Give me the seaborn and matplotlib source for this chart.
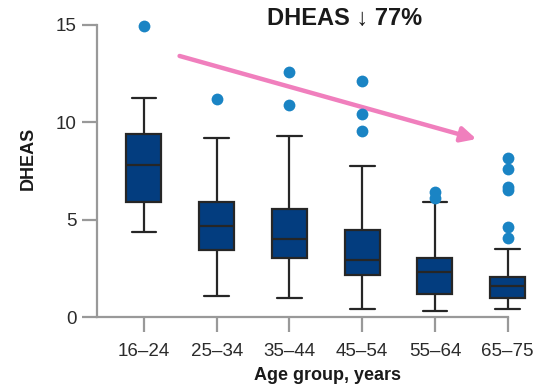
import numpy as np
import pandas as pd
import matplotlib
matplotlib.use("Agg")
import matplotlib.pyplot as plt
import seaborn as sns
from matplotlib import font_manager

# ---- data ----
groups = ["16–24", "25–34", "35–44", "45–54", "55–64", "65–75"]
whisker_low = [4.37, 1.08, 0.97, 0.43, 0.34, 0.43]
q1 = [5.90, 3.44, 3.03, 2.15, 1.18, 0.97]
median = [7.79, 4.70, 4.02, 2.94, 2.31, 1.62]
q3 = [9.40, 5.90, 5.55, 4.48, 3.04, 2.05]
whisker_high = [11.26, 9.20, 9.30, 7.77, 5.91, 3.49]
outliers = {
    "16–24": [14.95],
    "25–34": [11.2],
    "35–44": [12.6, 10.87],
    "45–54": [12.13, 10.44, 9.57],
    "55–64": [6.44, 6.10],
    "65–75": [8.17, 7.59, 6.70, 6.52, 4.65, 4.08],
}
title_text = "DHEAS ↓ 77%"
y_label = "DHEAS"
x_label = "Age group, years"
y_ticks = [0, 5, 10, 15]

# long-format table of box stats (5 points per group -> exact quartiles)
rows = []
for i, g in enumerate(groups):
    for v in (whisker_low[i], q1[i], median[i], q3[i], whisker_high[i]):
        rows.append({"group": g, "value": v})
box_df = pd.DataFrame(rows)
out_df = pd.DataFrame([{"group": g, "value": v} for g in groups for v in outliers[g]])

sns.set_style("ticks")
avail = {f.name for f in font_manager.fontManager.ttflist}
narrow = "Liberation Sans Narrow" if "Liberation Sans Narrow" in avail else "Liberation Sans"
plt.rcParams["font.family"] = [narrow, "DejaVu Sans"]

fig = plt.figure(figsize=(5.39, 3.86), dpi=100)
ax = fig.add_axes([97 / 539, 1 - 317.3 / 386, 1 - 97 / 539, 317.3 / 386])

axis_gray = "#999999"
box_blue = "#033d7f"
edge = "#262626"
dot_blue = "#1a84c4"

sns.boxplot(data=box_df, x="group", y="value", order=groups, ax=ax,
            whis=(0, 100), width=0.48, color=box_blue, saturation=1,
            linecolor=edge, linewidth=1.6, showfliers=False)
# widen caps to match reference
for c in ax.containers:
    if hasattr(c, "caps"):
        for cap in c.caps:
            xd = np.asarray(cap.get_xdata(), dtype=float)
            mid = xd.mean()
            cap.set_xdata([mid - 0.17, mid + 0.17])
for p in ax.patches:
    p.set_facecolor(box_blue)

sns.stripplot(data=out_df, x="group", y="value", order=groups, ax=ax,
              jitter=False, color=dot_blue, size=8.5, linewidth=0, zorder=5)

ax.set_xlim(-0.645, 5.43)
ax.set_ylim(0, 16.27)
ax.set_yticks(y_ticks)
ax.set_xlabel(x_label, fontsize=13, fontweight="bold", color="#1a1a1a")
ax.set_ylabel(y_label, fontsize=13, fontweight="bold", color="#1a1a1a", labelpad=14)
ax.xaxis.set_label_coords((328 - 97) / (539 - 97), -(375 - 317.3) / 317.3)
ax.xaxis.label.set_va("center")

for s in ["top", "right"]:
    ax.spines[s].set_visible(False)
for s in ["left", "bottom"]:
    ax.spines[s].set_color(axis_gray)
    ax.spines[s].set_linewidth(1.6)
ax.spines["left"].set_bounds(0, 15)
ax.spines["bottom"].set_bounds(-0.645, 5)
ax.tick_params(axis="both", colors=axis_gray, width=1.6, length=10.5,
               labelsize=13.5, labelcolor="#2b2b2b")
ax.tick_params(axis="x", pad=8)
ax.tick_params(axis="y", pad=4)

ax.annotate("", xy=(4.57, 9.14), xytext=(0.49, 13.4),
            arrowprops=dict(arrowstyle="-|>,head_length=0.9,head_width=0.45",
                            color="#f07fbd", lw=3.2, shrinkA=0, shrinkB=0))

fig.text(345 / 539, 1 - 19 / 386, title_text, ha="center", va="center",
         fontsize=17, fontweight="bold", color="#1a1a1a",
         family=[narrow, "DejaVu Sans"])

fig.savefig("out.png", dpi=100)
